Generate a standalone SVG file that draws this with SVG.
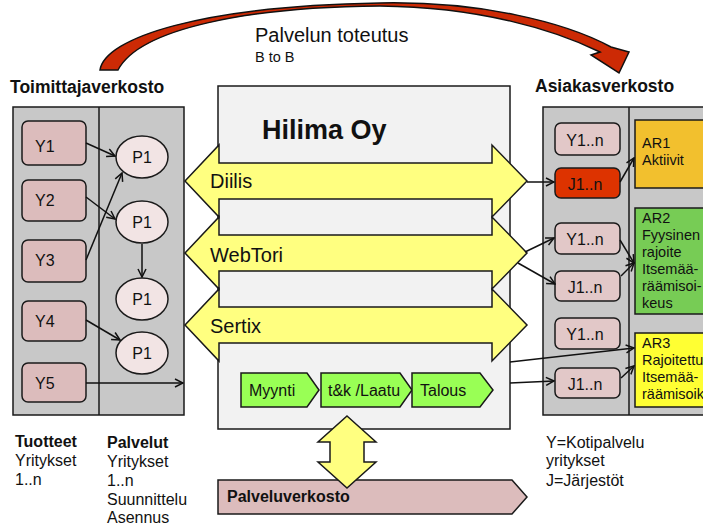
<svg xmlns="http://www.w3.org/2000/svg" width="703" height="530" viewBox="0 0 703 530">
<defs>
<style>
text{font-family:"Liberation Sans",Arial,sans-serif;fill:#111}
.panel{fill:#c8c8c8;stroke:#1a1a1a;stroke-width:1.5}
.yb{fill:#dcbcbc;stroke:#1a1a1a;stroke-width:1.5}
.rb{fill:#e2c8c8;stroke:#1a1a1a;stroke-width:1.5}
.pc{fill:#f2e4e4;stroke:#1a1a1a;stroke-width:1.5}
.band{fill:#ffff80;stroke:#1a1a1a;stroke-width:1.5}
.chev{fill:#99ff55;stroke:#1a1a1a;stroke-width:1.5}
.conn{stroke:#111;stroke-width:1.5;fill:none;marker-end:url(#ah)}
.t15{font-size:16px}
.t16{font-size:16px}
.t14{font-size:14.5px}
.b{font-weight:bold}
</style>
<marker id="ah" markerWidth="10" markerHeight="10" refX="9" refY="5" orient="auto" markerUnits="userSpaceOnUse"><path d="M1,1 L9,5 L1,9" fill="none" stroke="#111" stroke-width="1.5"/></marker>
</defs>
<rect width="703" height="530" fill="#fff"/>

<g id="curved-arrow">
<path d="M100,70 C105,38 200,6 380,3 C480,1 565,22 611,47 L629,52 L619,73 L591,55 L600,52 C555,30 480,7 380,6 C250,7 140,28 118,70 Z" fill="#cc2a05" stroke="#111" stroke-width="1.5" stroke-linejoin="miter"/>
</g>
<g id="title">
<text x="255" y="42" style="font-size:20px">Palvelun toteutus</text>
<text x="255" y="62" class="t14">B to B</text>
</g>

<g id="toimittajaverkosto">
<text x="10" y="93" class="b" style="font-size:17.5px">Toimittajaverkosto</text>
<rect class="panel" x="13" y="107" width="171" height="308"/>
<line x1="99" y1="107" x2="99" y2="415" stroke="#1a1a1a" stroke-width="1.5"/>
</g>
<g id="Y1"><rect class="yb" x="22" y="121" width="64" height="44" rx="6"/><text x="35" y="152" class="t15">Y1</text></g>
<g id="Y2"><rect class="yb" x="22" y="180" width="64" height="41" rx="6"/><text x="35" y="206" class="t15">Y2</text></g>
<g id="Y3"><rect class="yb" x="22" y="240" width="64" height="42" rx="6"/><text x="35" y="266" class="t15">Y3</text></g>
<g id="Y4"><rect class="yb" x="22" y="301" width="64" height="40" rx="6"/><text x="35" y="327" class="t15">Y4</text></g>
<g id="Y5"><rect class="yb" x="22" y="363" width="64" height="39" rx="6"/><text x="35" y="389" class="t15">Y5</text></g>
<g id="P1a"><ellipse class="pc" cx="142" cy="157" rx="26" ry="21"/><text x="142" y="163" class="t16" text-anchor="middle">P1</text></g>
<g id="P1b"><ellipse class="pc" cx="142" cy="222" rx="26" ry="21"/><text x="142" y="228" class="t16" text-anchor="middle">P1</text></g>
<g id="P1c"><ellipse class="pc" cx="142" cy="299" rx="26" ry="21"/><text x="142" y="305" class="t16" text-anchor="middle">P1</text></g>
<g id="P1d"><ellipse class="pc" cx="142" cy="353" rx="26" ry="21"/><text x="142" y="359" class="t16" text-anchor="middle">P1</text></g>

<g id="hilima">
<rect x="218" y="86" width="292" height="343" fill="#f2f2f2" stroke="#1a1a1a" stroke-width="1.5"/>
<text x="262" y="139" class="b" style="font-size:27px">Hilima Oy</text>
</g>
<g id="diilis"><polygon class="band" points="185,181 219,145 219,163 492,163 492,145 527,181 492,217 492,199 219,199 219,217"/><text x="210" y="188" style="font-size:20px">Diilis</text></g>
<g id="webtori"><polygon class="band" points="185,253 219,217 219,235 492,235 492,217 527,253 492,289 492,271 219,271 219,289"/><text x="210" y="262" style="font-size:20px">WebTori</text></g>
<g id="sertix"><polygon class="band" points="185,325 219,289 219,307 492,307 492,289 527,325 492,361 492,343 219,343 219,361"/><text x="210" y="333" style="font-size:20px">Sertix</text></g>
<g id="myynti"><polygon class="chev" points="241,373 307,373 319,390 307,407 241,407"/><text x="249" y="396" class="t16">Myynti</text></g>
<g id="tk"><polygon class="chev" points="321,373 400,373 412,390 400,407 321,407"/><text x="328" y="396" class="t16">t&amp;k /Laatu</text></g>
<g id="talous"><polygon class="chev" points="412,373 480,373 493,390 480,407 412,407"/><text x="420" y="396" class="t16">Talous</text></g>

<g id="palveluverkosto">
<polygon points="218,480 512,480 527,497 512,514 218,514" fill="#dcbcbc" stroke="#1a1a1a" stroke-width="1.5"/>
<text x="227" y="502" class="t16 b">Palveluverkosto</text>
</g>
<g id="vertical-arrow"><polygon class="band" points="347,416 376,442 364,442 364,462 376,462 347,488 318,462 330,462 330,442 318,442"/></g>

<g id="asiakasverkosto">
<text x="535" y="92" class="b" style="font-size:17.5px">Asiakasverkosto</text>
<rect class="panel" x="543" y="107" width="170" height="308"/>
<line x1="629" y1="107" x2="629" y2="415" stroke="#1a1a1a" stroke-width="1.5"/>
</g>
<g id="rY1"><rect class="rb" x="555" y="123" width="65" height="32" rx="6"/><text x="585" y="146" class="t16" text-anchor="middle">Y1..n</text></g>
<g id="rJ1"><rect x="555" y="168" width="65" height="30" rx="6" fill="#dd3300" stroke="#1a1a1a" stroke-width="1.5"/><text x="585" y="190" class="t16" text-anchor="middle">J1..n</text></g>
<g id="rY2"><rect class="rb" x="555" y="223" width="65" height="31" rx="6"/><text x="585" y="245" class="t16" text-anchor="middle">Y1..n</text></g>
<g id="rJ2"><rect class="rb" x="555" y="271" width="65" height="30" rx="6"/><text x="585" y="293" class="t16" text-anchor="middle">J1..n</text></g>
<g id="rY3"><rect class="rb" x="555" y="318" width="65" height="31" rx="6"/><text x="585" y="340" class="t16" text-anchor="middle">Y1..n</text></g>
<g id="rJ3"><rect class="rb" x="555" y="368" width="65" height="30" rx="6"/><text x="585" y="390" class="t16" text-anchor="middle">J1..n</text></g>
<g id="AR1"><rect x="635" y="120" width="80" height="68" fill="#f2c02e" stroke="#1a1a1a" stroke-width="1.5"/>
<text class="t14"><tspan x="642" y="148">AR1</tspan><tspan x="642" y="165">Aktiivit</tspan></text></g>
<g id="AR2"><rect x="635" y="208" width="80" height="106" fill="#77cc55" stroke="#1a1a1a" stroke-width="1.5"/>
<text class="t14"><tspan x="642" y="223">AR2</tspan><tspan x="642" y="240">Fyysinen</tspan><tspan x="642" y="257">rajoite</tspan><tspan x="642" y="274">Itsemää-</tspan><tspan x="642" y="291">räämisoi-</tspan><tspan x="642" y="308">keus</tspan></text></g>
<g id="AR3"><rect x="635" y="333" width="80" height="74" fill="#ffff33" stroke="#1a1a1a" stroke-width="1.5"/>
<text class="t14"><tspan x="642" y="348">AR3</tspan><tspan x="642" y="365">Rajoitettu</tspan><tspan x="642" y="382">Itsemää-</tspan><tspan x="642" y="399">räämisoik</tspan></text></g>

<g id="connectors">
<path class="conn" d="M86,143 L115,156"/>
<path class="conn" d="M86,260 L122,173"/>
<path class="conn" d="M86,197 L115,219"/>
<path class="conn" d="M142,244 L142,277"/>
<path class="conn" d="M86,320 L120,340"/>
<path class="conn" d="M86,383 L183,383"/>
<path class="conn" d="M527,182 L554,182"/>
<path class="conn" d="M620,182 L634,158"/>
<path class="conn" d="M525,252 L554,238"/>
<path class="conn" d="M518,263 L555,284"/>
<path class="conn" d="M620,240 L634,263"/>
<path class="conn" d="M621,276 L634,263"/>
<path class="conn" d="M510,362 L634,348"/>
<path class="conn" d="M510,383 L554,381"/>
<path class="conn" d="M621,378 L634,366"/>
</g>

<g id="notes">
<text class="t16"><tspan x="15" y="447" class="b">Tuotteet</tspan><tspan x="15" y="466">Yritykset</tspan><tspan x="15" y="485">1..n</tspan></text>
<text class="t16"><tspan x="107" y="448" class="b">Palvelut</tspan><tspan x="107" y="467">Yritykset</tspan><tspan x="107" y="486">1..n</tspan><tspan x="107" y="505">Suunnittelu</tspan><tspan x="107" y="523">Asennus</tspan></text>
<text class="t16"><tspan x="546" y="448">Y=Kotipalvelu</tspan><tspan x="546" y="466">yritykset</tspan><tspan x="546" y="486">J=Järjestöt</tspan></text>
</g>
</svg>
